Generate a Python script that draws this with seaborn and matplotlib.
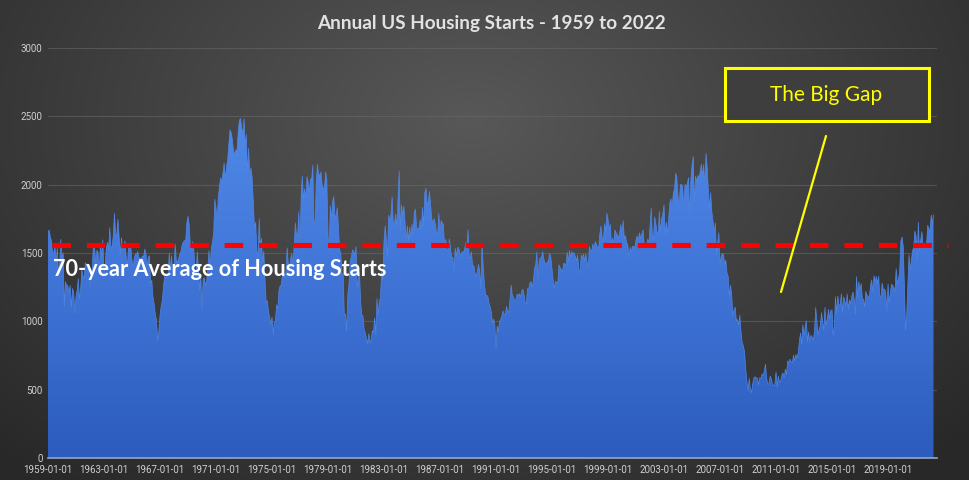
import numpy as np
import pandas as pd
import matplotlib
matplotlib.use("Agg")
import matplotlib.pyplot as plt
import matplotlib.dates as mdates
from matplotlib.colors import LinearSegmentedColormap
from matplotlib.patches import Rectangle
import seaborn as sns

# Monthly housing starts (thousands of units, SAAR), grouped by decade
starts_1950s = [
    1657, 1667, 1620, 1590, 1498, 1503, 1547, 1430, 1540, 1355, 1416, 1601,
]
starts_1960s = [
    1460, 1503, 1109, 1289, 1266, 1260, 1207, 1263, 1101, 1240, 1210, 1063,
    1183, 1226, 1312, 1166, 1228, 1382, 1335, 1312, 1429, 1415, 1419, 1376,
    1258, 1353, 1388, 1566, 1540, 1416, 1520, 1502, 1372, 1568, 1463, 1596,
    1353, 1414, 1528, 1579, 1523, 1686, 1549, 1537, 1633, 1790, 1636, 1637,
    1746, 1616, 1491, 1612, 1530, 1523, 1590, 1475, 1395, 1542, 1527, 1541,
    1443, 1397, 1468, 1493, 1491, 1510, 1469, 1457, 1462, 1478, 1473, 1529,
    1491, 1392, 1468, 1480, 1280, 1300, 1180, 1130, 1050, 1011, 860, 925,
    1040, 1110, 1150, 1250, 1330, 1320, 1340, 1350, 1500, 1380, 1480, 1330,
    1366, 1565, 1450, 1430, 1460, 1490, 1510, 1560, 1580, 1590, 1590, 1720,
    1769, 1705, 1560, 1524, 1583, 1528, 1368, 1358, 1507, 1381, 1229, 1327,
]
starts_1970s = [
    1085, 1305, 1319, 1264, 1290, 1385, 1517, 1399, 1534, 1580, 1647, 1893,
    1828, 1741, 1910, 1986, 2049, 2026, 2083, 2158, 2041, 2128, 2182, 2295,
    2400, 2380, 2334, 2249, 2221, 2254, 2252, 2382, 2470, 2485, 2421, 2366,
    2481, 2289, 2365, 2084, 2266, 2067, 2123, 2051, 1874, 1677, 1724, 1526,
    1451, 1752, 1555, 1607, 1426, 1513, 1316, 1142, 1150, 1070, 1026, 975,
    1032, 904, 993, 1005, 1121, 1087, 1226, 1260, 1264, 1344, 1360, 1321,
    1367, 1538, 1421, 1395, 1459, 1495, 1401, 1550, 1720, 1629, 1641, 1804,
    1527, 1943, 2063, 1892, 1971, 1893, 2058, 2020, 1949, 2042, 2042, 2142,
    1718, 1738, 2032, 2150, 2075, 2070, 2092, 1996, 1970, 1981, 2094, 2044,
    1630, 1520, 1847, 1748, 1876, 1913, 1760, 1778, 1832, 1681, 1524, 1498,
]
starts_1980s = [
    1341, 1350, 1047, 1051, 927, 1196, 1269, 1436, 1471, 1523, 1510, 1482,
    1547, 1246, 1306, 1360, 1140, 1045, 1041, 940, 911, 873, 837, 910,
    843, 866, 931, 917, 1025, 902, 1166, 1046, 1144, 1173, 1372, 1303,
    1586, 1699, 1606, 1472, 1776, 1733, 1785, 1910, 1710, 1715, 1785, 1688,
    1897, 2100, 1663, 1851, 1774, 1843, 1732, 1586, 1698, 1590, 1689, 1612,
    1711, 1632, 1800, 1821, 1680, 1676, 1684, 1743, 1676, 1834, 1698, 1942,
    1972, 1848, 1876, 1950, 1850, 1749, 1718, 1750, 1709, 1646, 1640, 1788,
    1666, 1738, 1718, 1711, 1533, 1600, 1529, 1521, 1603, 1543, 1459, 1469,
    1370, 1535, 1477, 1537, 1540, 1500, 1470, 1510, 1505, 1523, 1577, 1548,
    1671, 1457, 1472, 1509, 1400, 1408, 1356, 1326, 1363, 1416, 1368, 1238,
]
starts_1990s = [
    1574, 1405, 1286, 1196, 1189, 1184, 1132, 1107, 1064, 985, 1016, 970,
    798, 965, 920, 1000, 1013, 1036, 1076, 1052, 1050, 1110, 1074, 1065,
    1158, 1266, 1190, 1176, 1153, 1153, 1198, 1186, 1203, 1179, 1220, 1235,
    1198, 1133, 1129, 1239, 1234, 1279, 1293, 1248, 1293, 1390, 1413, 1506,
    1312, 1444, 1466, 1461, 1511, 1458, 1421, 1422, 1433, 1445, 1498, 1471,
    1386, 1295, 1242, 1293, 1284, 1280, 1413, 1394, 1377, 1358, 1425, 1421,
    1403, 1507, 1435, 1518, 1466, 1511, 1496, 1500, 1472, 1445, 1485, 1380,
    1355, 1486, 1457, 1492, 1442, 1494, 1437, 1390, 1546, 1520, 1510, 1566,
    1525, 1584, 1567, 1540, 1536, 1641, 1698, 1614, 1582, 1715, 1660, 1792,
    1748, 1670, 1710, 1553, 1611, 1559, 1669, 1648, 1635, 1608, 1648, 1708,
]
starts_2000s = [
    1636, 1737, 1604, 1626, 1575, 1559, 1463, 1541, 1507, 1549, 1551, 1532,
    1600, 1625, 1590, 1649, 1605, 1636, 1670, 1567, 1562, 1540, 1602, 1568,
    1698, 1829, 1642, 1592, 1764, 1717, 1655, 1633, 1804, 1648, 1753, 1788,
    1853, 1629, 1726, 1643, 1751, 1867, 1897, 1833, 1939, 1967, 2083, 2057,
    1911, 1846, 1998, 2003, 1981, 1828, 2002, 1985, 2008, 2052, 1782, 2042,
    2144, 2207, 1864, 2061, 2025, 2068, 2054, 2095, 2151, 2065, 2147, 1994,
    2230, 2119, 1969, 1821, 1942, 1802, 1737, 1650, 1720, 1491, 1570, 1649,
    1409, 1480, 1495, 1490, 1415, 1448, 1354, 1330, 1183, 1264, 1197, 1037,
    1084, 1103, 1005, 1013, 973, 1046, 923, 844, 820, 777, 652, 560,
    490, 582, 505, 478, 540, 585, 594, 586, 585, 534, 588, 581,
]
starts_2010s = [
    614, 604, 636, 687, 583, 536, 546, 599, 580, 534, 528, 543,
    630, 517, 600, 554, 561, 608, 623, 585, 650, 610, 711, 694,
    723, 704, 695, 753, 708, 757, 728, 771, 854, 915, 833, 976,
    888, 962, 1005, 852, 922, 846, 897, 883, 863, 928, 1101, 1003,
    903, 945, 967, 1063, 1001, 932, 1103, 970, 1020, 1088, 1019, 1080,
    1083, 898, 957, 1180, 1059, 1185, 1120, 1119, 1202, 1065, 1180, 1147,
    1114, 1200, 1089, 1158, 1128, 1186, 1214, 1161, 1052, 1327, 1175, 1289,
    1228, 1276, 1171, 1157, 1106, 1219, 1192, 1180, 1173, 1263, 1304, 1210,
    1334, 1290, 1327, 1276, 1329, 1177, 1184, 1280, 1228, 1236, 1214, 1078,
    1273, 1134, 1203, 1270, 1265, 1248, 1216, 1385, 1272, 1314, 1364, 1587,
]
starts_2020s = [
    1617, 1550, 1276, 934, 1038, 1265, 1487, 1376, 1448, 1516, 1541, 1661,
    1625, 1447, 1725, 1514, 1594, 1657, 1562, 1573, 1530, 1563, 1703, 1678,
    1666, 1777, 1716, 1780,
]

avg_starts = 1560
tick_years = list(range(1959, 2020, 4))
y_ticks = [0, 500, 1000, 1500, 2000, 2500, 3000]
title_text = "Annual US Housing Starts - 1959 to 2022"
avg_label = "70-year Average of Housing Starts"
gap_label = "The Big Gap"

starts = (starts_1950s + starts_1960s + starts_1970s + starts_1980s
          + starts_1990s + starts_2000s + starts_2010s + starts_2020s)
dates = pd.date_range("1959-01-01", periods=len(starts), freq="MS")
df = pd.DataFrame({"date": dates, "starts": starts})

sns.set_theme(style="dark")
plt.rcParams["font.family"] = ["Lato", "DejaVu Sans"]

W, H = 969, 480
fig = plt.figure(figsize=(W / 100, H / 100), dpi=100)

# dark radial backdrop
bg = fig.add_axes([0, 0, 1, 1])
yy, xx = np.mgrid[0:H, 0:W]
r = np.sqrt(((xx - 470) / 620.0) ** 2 + ((yy - 120) / 420.0) ** 2)
shade = np.clip(0.345 - 0.17 * r, 0.16, 0.36)
bg.imshow(np.dstack([shade] * 3), extent=[0, W, H, 0], aspect="auto",
          interpolation="bilinear")
bg.set_xlim(0, W)
bg.set_ylim(H, 0)
bg.axis("off")

ax = fig.add_axes([48 / W, 22 / H, (937 - 48) / W, (458 - 48) / H])
ax.set_facecolor("none")

x0 = mdates.date2num(pd.Timestamp("1959-01-01"))
x1 = mdates.date2num(pd.Timestamp("2022-07-01"))
ax.set_xlim(x0, x1)
ax.set_ylim(0, 3000)

for v in y_ticks[1:]:
    ax.axhline(v, color="#6a6a6a", lw=0.8, alpha=0.55, zorder=0.5)

# blue area with a vertical gradient
sns.lineplot(data=df, x="date", y="starts", ax=ax, color="#4f86e4",
             lw=0.5, zorder=2)
poly = ax.fill_between(df["date"], 0, df["starts"], color="none", lw=0)
blue = LinearSegmentedColormap.from_list("blue", ["#2c5cbd", "#3f74d6", "#5089e8"])
grad = np.linspace(0, 1, 256).reshape(-1, 1)
img = ax.imshow(grad, cmap=blue, origin="lower", aspect="auto",
                extent=[mdates.date2num(dates[0]), mdates.date2num(dates[-1]), 0, 2500],
                zorder=1.5, interpolation="bilinear")
img.set_clip_path(poly.get_paths()[0], transform=ax.transData)
ax.set_xlim(x0, x1)
ax.set_ylim(0, 3000)

# average line
ax.plot([pd.Timestamp("1959-04-15"), pd.Timestamp("2023-04-01")],
        [avg_starts, avg_starts], color="#ff0000", lw=3.7,
        dashes=(3.6, 3.1), clip_on=False, zorder=3, solid_capstyle="butt")

ax.set_xticks([mdates.date2num(pd.Timestamp(f"{y}-01-01")) for y in tick_years])
ax.set_xticklabels([f"{y}-01-01" for y in tick_years])
ax.set_yticks(y_ticks)
ax.set_yticklabels([str(v) for v in y_ticks])
ax.tick_params(axis="both", colors="#cfcfcf", labelsize=7, length=0, pad=4)
ax.tick_params(axis="x", length=3, width=0.8, color="#8a8a8a", direction="out", pad=2)
for lab in ax.get_xticklabels() + ax.get_yticklabels():
    lab.set_fontfamily(["Roboto", "DejaVu Sans"])
ax.set_xlabel("")
ax.set_ylabel("")
for side in ["top", "right", "left"]:
    ax.spines[side].set_visible(False)
ax.spines["bottom"].set_color("#9aa6c4")
ax.spines["bottom"].set_linewidth(1.2)
ax.grid(False)

fig.text(491 / W, 1 - 23 / H, title_text, ha="center", va="center",
         color="#e2e2e2", fontsize=13.6, fontweight="bold")

ax.text(0.006, (458 - 270) / (458 - 48), avg_label, transform=ax.transAxes,
        ha="left", va="center", color="white", fontsize=15.6,
        fontweight="bold", zorder=4)

# callout box and pointer
fig.patches.append(Rectangle((725 / W, 1 - 121 / H), (929 - 725) / W, 53 / H,
                             transform=fig.transFigure, facecolor="#3e3e3e",
                             edgecolor="#ffff00", lw=2.2, zorder=5))
fig.text(826 / W, 1 - 95 / H, gap_label, ha="center", va="center",
         color="#ffff00", fontsize=15, zorder=6)
fig.add_artist(plt.Line2D([826 / W, 781 / W], [1 - 136 / H, 1 - 292 / H],
                          transform=fig.transFigure, color="#ffff00", lw=1.6,
                          zorder=6))

fig.savefig("out.png", dpi=100)
